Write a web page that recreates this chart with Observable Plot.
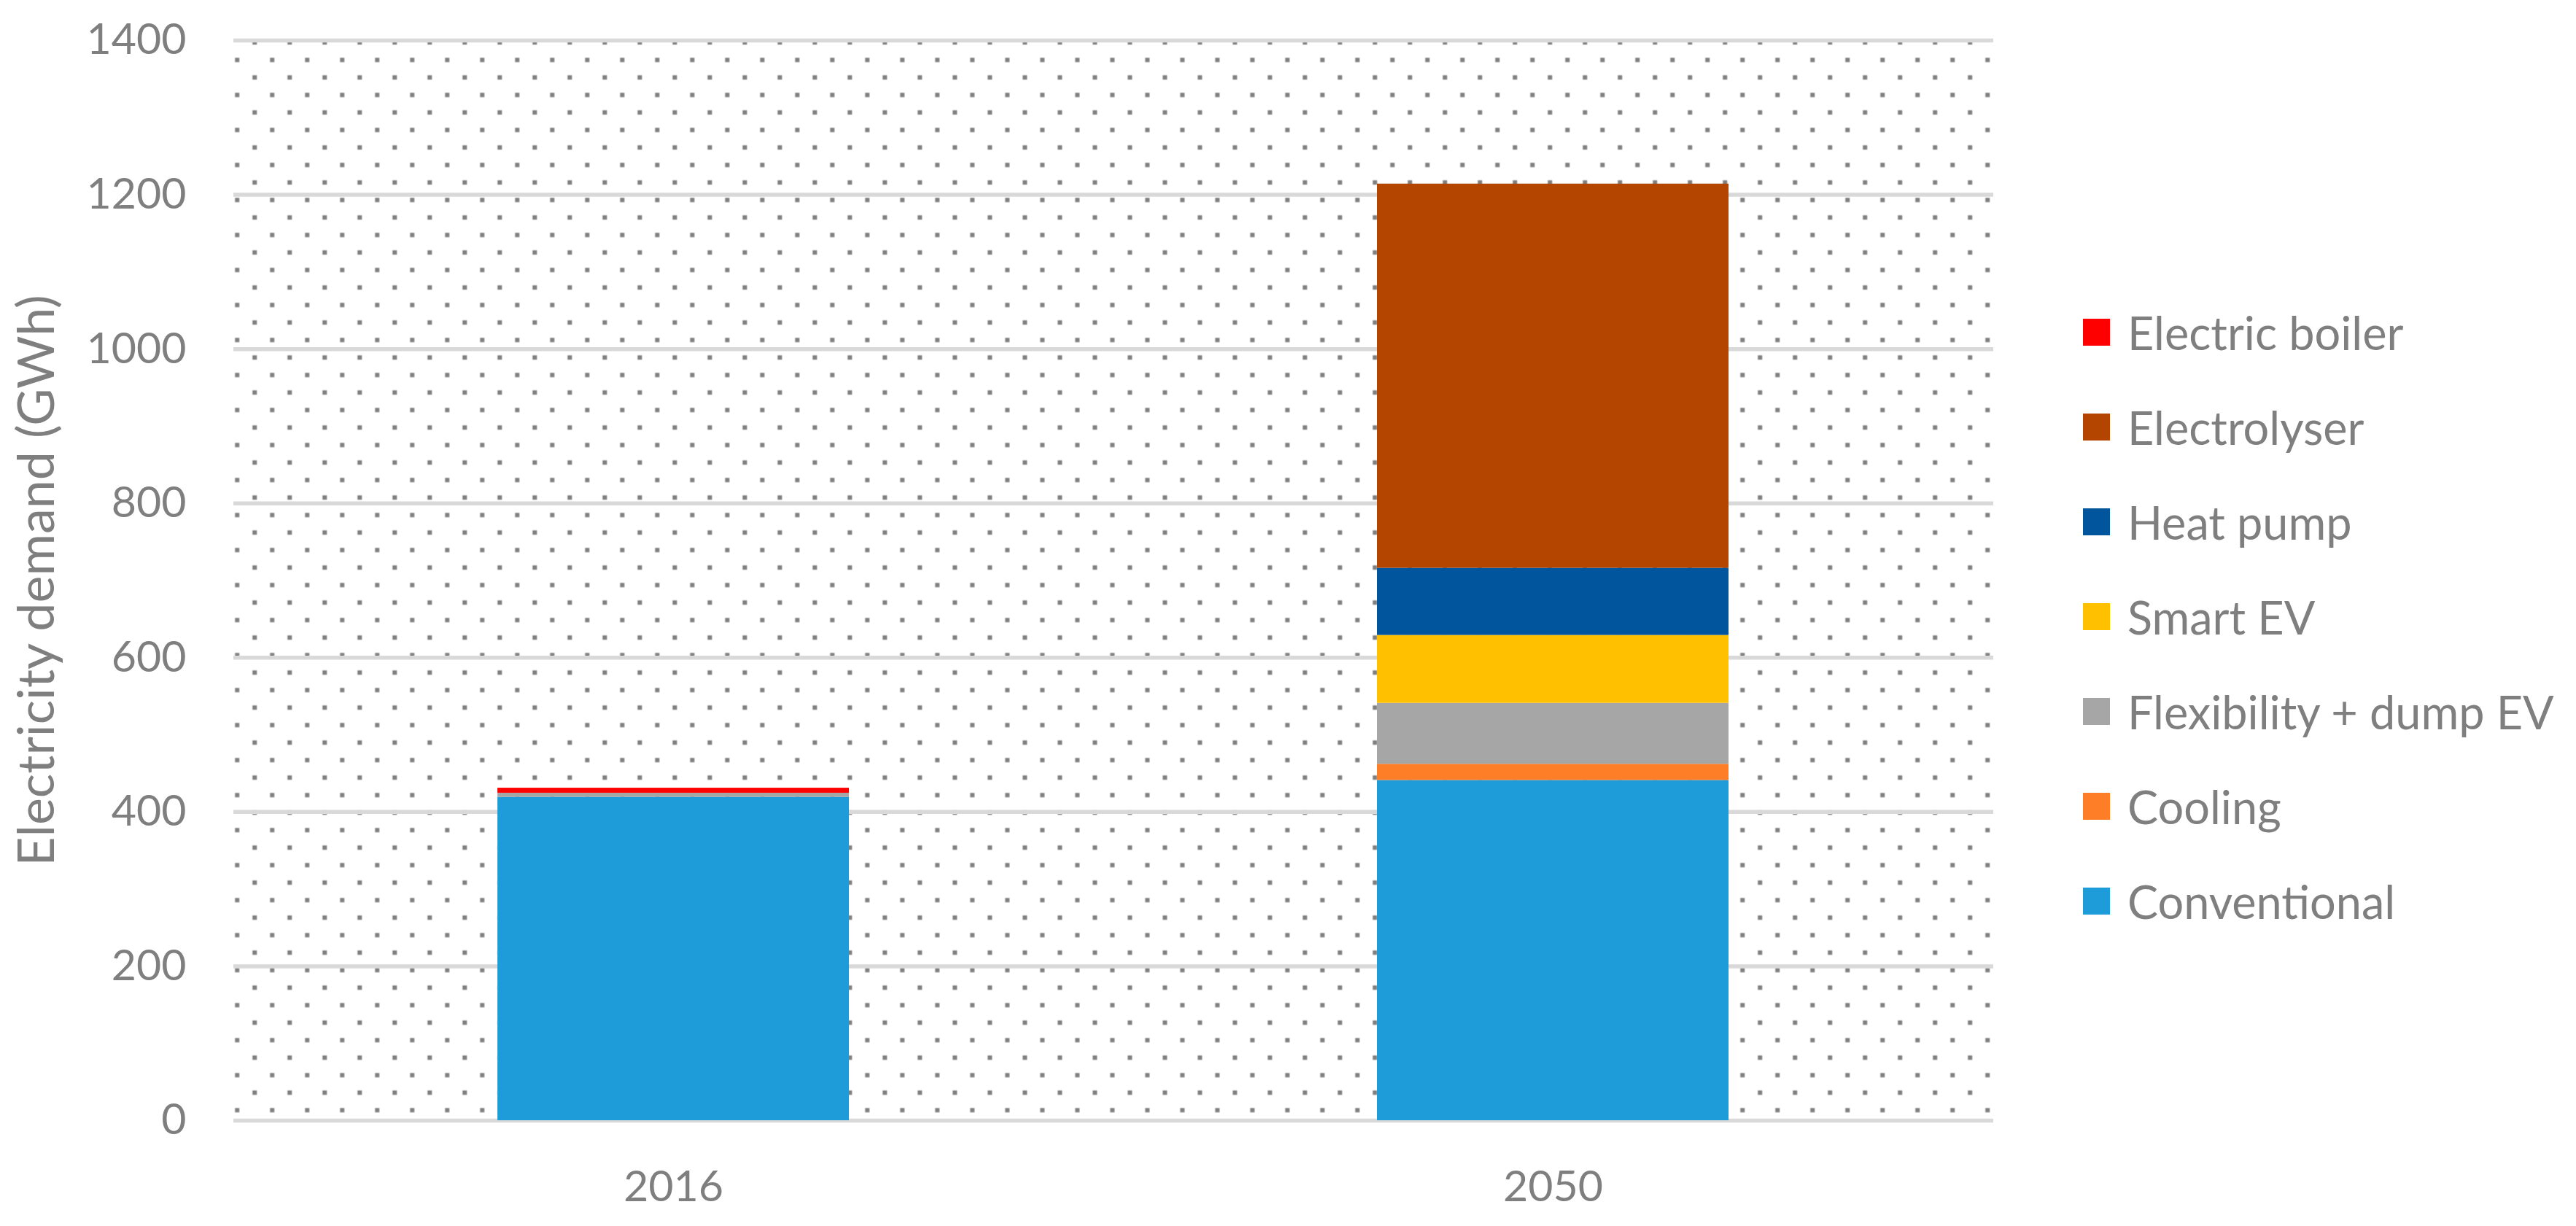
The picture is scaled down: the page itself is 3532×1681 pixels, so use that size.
<!DOCTYPE html>
<html>
<head>
<meta charset="utf-8">
<script src="https://cdn.jsdelivr.net/npm/d3@7"></script>
<script src="https://cdn.jsdelivr.net/npm/@observablehq/plot@0.6"></script>
<style>
  html, body { margin: 0; padding: 0; background: #ffffff; }
  #wrap { position: relative; width: 3532px; height: 1681px; font-family: Lato, "Open Sans", sans-serif; }
  #chart { position: absolute; left: 0; top: 0; }
  #legend { position: absolute; left: 2856px; top: 390px; color: #7F7F7F; font-size: 63px; }
  .item { display: flex; align-items: center; height: 130px; white-space: nowrap; }
  .sw { width: 37px; height: 37px; margin-right: 24px; flex: none; }
</style>
</head>
<body>
<div id="wrap">
  <div id="chart"></div>
  <div id="legend"></div>
</div>
<script>
// ---- data ----
const years = ["2016", "2050"];
const categories = ["Conventional", "Cooling", "Flexibility + dump EV", "Smart EV", "Heat pump", "Electrolyser", "Electric boiler"];
const colors = ["#1E9CD9", "#FE7D27", "#A6A6A6", "#FFC000", "#01559D", "#B34500", "#FF0000"];
// values per category: [2016, 2050] in GWh
const conventional   = [419, 441];
const cooling        = [0, 21];
const flexibility    = [5.5, 79];
const smartEV        = [0, 88];
const heatPump       = [0, 87];
const electrolyser   = [0, 498];
const electricBoiler = [6.5, 0];
const yTicks = [0, 200, 400, 600, 800, 1000, 1200, 1400];
const yLabel = "Electricity demand (GWh)";

const series = [conventional, cooling, flexibility, smartEV, heatPump, electrolyser, electricBoiler];
const data = categories.flatMap((c, i) => years.map((y, j) => ({year: y, category: c, value: series[i][j]})));

const chart = Plot.plot({
  width: 3532,
  height: 1681,
  marginLeft: 320,
  marginRight: 799,
  marginTop: 55,
  marginBottom: 145,
  x: {domain: years, paddingInner: 0.6, paddingOuter: 0.3, label: null},
  y: {domain: [0, 1400], label: null},
  color: {domain: categories, range: colors},
  style: {fontFamily: "Lato, 'Open Sans', sans-serif", fontSize: "59px", color: "#7F7F7F", background: "#ffffff"},
  marks: [
    Plot.frame({fill: "url(#dots)", stroke: "none"}),
    Plot.gridY(yTicks, {stroke: "#D9D9D9", strokeOpacity: 1, strokeWidth: 5.5}),
    Plot.barY(data, {x: "year", y: "value", fill: "category"}),
    Plot.axisY(yTicks, {tickSize: 0, tickPadding: 65, fontSize: 59, tickFormat: (d) => String(d), label: null}),
    Plot.axisY([], {tickSize: 0, fontSize: 70, label: yLabel, labelAnchor: "center", labelArrow: "none", labelOffset: 296}),
    Plot.axisX({tickSize: 0, tickPadding: 69, fontSize: 59, label: null})
  ]
});

// dotted pattern fill of the plot area
d3.select(chart).insert("defs", ":first-child").html(
  '<pattern id="dots" patternUnits="userSpaceOnUse" x="0" y="0" width="48" height="48">' +
  '<rect x="33.7" y="30.7" width="6" height="6" fill="#808080"/>' +
  '<rect x="9.7" y="6.7" width="6" height="6" fill="#808080"/>' +
  '</pattern>'
);
document.getElementById("chart").appendChild(chart);

// legend (top to bottom: reverse stacking order)
const legend = d3.select("#legend");
categories.slice().reverse().forEach((c) => {
  const it = legend.append("div").attr("class", "item");
  it.append("div").attr("class", "sw").style("background", colors[categories.indexOf(c)]);
  it.append("span").text(c);
});
</script>
</body>
</html>
